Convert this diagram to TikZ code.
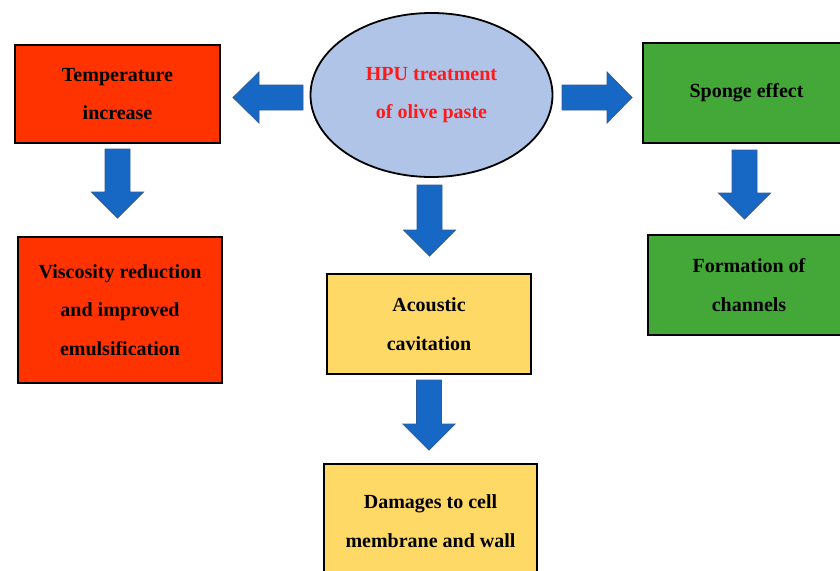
\documentclass[tikz,border=0pt]{standalone}
\usepackage{fontspec}
\setmainfont{Liberation Serif}
\usetikzlibrary{shapes.geometric}
\definecolor{redbox}{HTML}{FF3300}
\definecolor{yellowbox}{HTML}{FFD966}
\definecolor{greenbox}{HTML}{43A838}
\definecolor{ellfill}{HTML}{B0C4E8}
\definecolor{arrowblue}{HTML}{1767C4}
\definecolor{arrowedge}{HTML}{2C5C9C}
\definecolor{hputext}{HTML}{FF1A1A}
\tikzset{
  box/.style={draw=black, line width=2pt, rectangle, align=center,
    font=\fontsize{20}{38.5}\selectfont\bfseries, inner sep=0pt},
  blk/.style={fill=arrowblue, draw=arrowedge, line width=0.8pt, line join=miter}
}
\newcommand\arrdown[3]{%
  \draw[blk] ({#1-12.5},#2) -- ({#1+12.5},#2) -- ({#1+12.5},{#3-26}) -- ({#1+26},{#3-26})
    -- (#1,#3) -- ({#1-26},{#3-26}) -- ({#1-12.5},{#3-26}) -- cycle;}
\begin{document}
\begin{tikzpicture}[x=1pt,y=-1pt]
\clip (0,0) rectangle (840,570);
\fill[white] (0,0) rectangle (840,570);
% nodes
\node[box, fill=redbox, minimum width=205pt, minimum height=98pt] (temp) at (117.5,94) {Temperature\\increase};
\node[box, fill=redbox, minimum width=204pt, minimum height=146pt] (visc) at (120,310) {Viscosity reduction\\and improved\\emulsification};
\node[ellipse, draw=black, line width=1.8pt, fill=ellfill, minimum width=242pt, minimum height=164pt, inner sep=0pt,
  align=center, text=hputext, font=\fontsize{20}{38.5}\selectfont\bfseries] (hpu) at (431.5,95) {HPU treatment\\of olive paste};
\node[box, fill=greenbox, minimum width=207pt, minimum height=100pt] (sponge) at (746.5,93) {Sponge effect};
\node[box, fill=greenbox, minimum width=202pt, minimum height=100pt] (form) at (749,285) {Formation of\\channels};
\node[box, fill=yellowbox, minimum width=204pt, minimum height=100pt] (acou) at (429,324) {Acoustic\\cavitation};
\node[box, fill=yellowbox, minimum width=213pt, minimum height=114pt] (dam) at (430.5,521) {Damages to cell\\membrane and wall};
% block arrows
\draw[blk] (303,85) -- (303,110) -- (259,110) -- (259,123) -- (233,97.5) -- (259,72) -- (259,85) -- cycle;
\draw[blk] (562,85) -- (562,110) -- (607,110) -- (607,123) -- (632,97.5) -- (607,72) -- (607,85) -- cycle;
\arrdown{117.5}{149}{218}
\arrdown{744.5}{150}{219}
\arrdown{429.5}{185}{256}
\arrdown{429}{380}{450}
\end{tikzpicture}
\end{document}
